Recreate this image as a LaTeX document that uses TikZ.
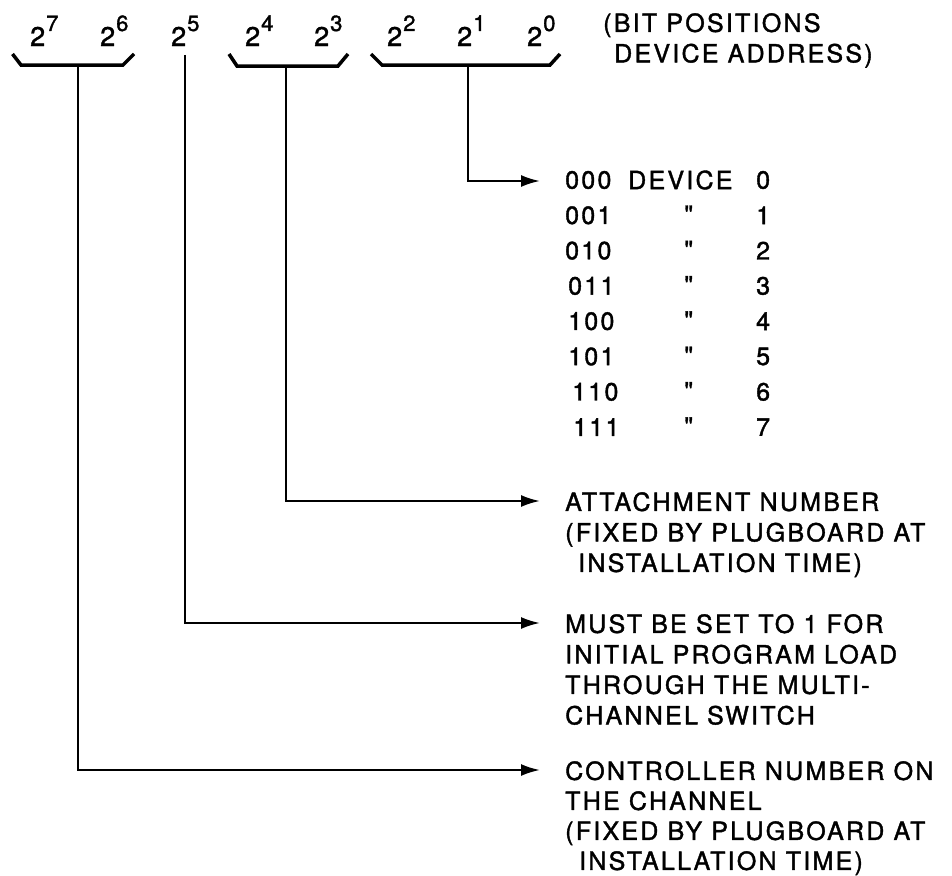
\documentclass[tikz,border=0pt]{standalone}
\usepackage{fontspec}
\newfontfamily\leroy[LetterSpace=9, FakeBold=1.5]{TeX Gyre Heros}
\usetikzlibrary{positioning, arrows.meta}
\newcommand{\bitpow}[1]{2\hspace{1pt}\raisebox{15pt}{\fontsize{22}{22}\selectfont #1}}

\begin{document}
\begin{tikzpicture}[
  x=1pt, y=-1pt,
  bitlbl/.style={anchor=base west, inner sep=0pt, font=\leroy\fontsize{27}{30}\selectfont},
  bitbrace/.style={line width=3.5pt, line join=miter},
  arrow/.style={-{Latex[length=19pt, width=12pt]}, line width=2.3pt},
  note/.style={inner sep=0pt, align=left, font=\leroy\fontsize{25}{30.5}\selectfont},
  tbl/.style={anchor=west, inner sep=0pt, font=\leroy\fontsize{25}{30}\selectfont},
]
\useasboundingbox (0,0) rectangle (952,875);

% bit positions
\foreach \e/\x in {7/30, 6/100, 5/171, 4/245, 3/314, 2/387, 1/457, 0/527}
  \node[bitlbl] (b\e) at (\x,46) {\bitpow{\e}};

\node[note, anchor=north west] (bitpos) at (603,13)
  {(BIT POSITIONS\\\hspace*{11pt}DEVICE ADDRESS)};

% braces under the groups
\draw[bitbrace] (12.5,54) -- (21,65) -- (123,65) -- (134,54);
\draw[bitbrace] (229,54) -- (237,66) -- (338,66) -- (348,54);
\draw[bitbrace] (371,54) -- (382,65) -- (550,65) -- (560,54);

\coordinate (g76) at (78,65);
\coordinate (g5) at (185,55);
\coordinate (g43) at (286,66);
\coordinate (g210) at (468,65);

\coordinate (t210) at (540,181);
\coordinate (t43) at (540,501);
\coordinate (t5) at (540,623);
\coordinate (t76) at (540,770);

\draw[arrow] (g210) |- (t210);
\draw[arrow] (g43) |- (t43);
\draw[arrow] (g5) |- (t5);
\draw[arrow] (g76) |- (t76);

% device table
\node[tbl] (dev) at (628,180) {DEVICE};
\foreach \i/\c/\x in {0/000/565, 1/001/565, 2/010/565, 3/011/568,
                      4/100/568, 5/101/568, 6/110/572, 7/111/573} {
  \node[tbl] (code\i) at (\x,180+35.3*\i) {\c};
  \node[tbl] (num\i) at (756,180+35.3*\i) {\i};
}
\foreach \i in {1,...,7}
  \node[tbl, anchor=north west] (ditto\i) at (684,170+35.3*\i) {\textquotedbl};

% meanings
\node[note, below right=-9pt and 25pt of t43] (attach)
  {ATTACHMENT NUMBER\\(FIXED BY PLUGBOARD AT\\\hspace*{13pt}INSTALLATION TIME)};
\node[note, below right=-9pt and 25pt of t5] (ipl)
  {MUST BE SET TO 1 FOR\\INITIAL PROGRAM LOAD\\THROUGH THE MULTI-\\CHANNEL SWITCH};
\node[note, below right=-9pt and 25pt of t76, font=\leroy\fontsize{25}{30}\selectfont] (ctrl)
  {CONTROLLER NUMBER ON\\THE CHANNEL\\(FIXED BY PLUGBOARD AT\\\hspace*{14pt}INSTALLATION TIME)};
\end{tikzpicture}
\end{document}
